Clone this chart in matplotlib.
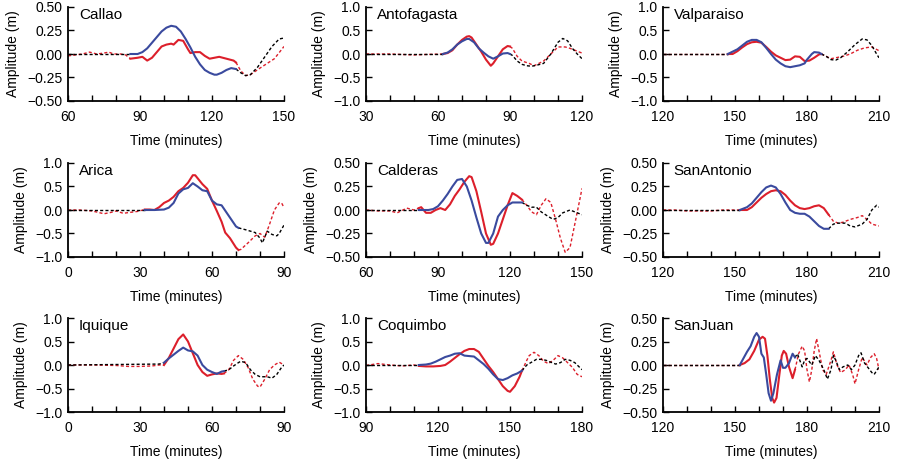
import numpy as np
import matplotlib
matplotlib.use("Agg")
import matplotlib.pyplot as plt
from matplotlib.ticker import FuncFormatter, MultipleLocator

plt.rcParams['font.family'] = ['Liberation Sans', 'DejaVu Sans']
plt.rcParams['font.size'] = 9

RED = '#dc1f2b'
BLUE = '#3a4a9e'

# ---- station data (time in minutes, amplitude in m) ----
callao_t_obs = [60, 63, 66, 69, 72, 75, 77, 79, 82, 84, 86, 89, 91, 93, 95, 97, 99, 101, 103, 104,
                106, 108, 110, 111, 113, 115, 117, 119, 121, 123, 126, 129, 130, 132, 134, 136,
                140, 143, 146, 150]
callao_obs = [-0.02, -0.01, 0.0, 0.02, 0.0, 0.01, 0.02, 0.0, 0.0, -0.01, -0.05, -0.04, -0.03, -0.07,
              -0.04, 0.02, 0.08, 0.10, 0.11, 0.10, 0.15, 0.14, 0.05, 0.01, 0.02, 0.02, -0.02, -0.05,
              -0.04, -0.03, -0.05, -0.07, -0.09, -0.18, -0.23, -0.22, -0.15, -0.10, -0.05, 0.08]
callao_t_syn = [60, 86, 89, 91, 93, 95, 97, 99, 101, 103, 105, 107, 109, 111, 113, 115, 117, 119,
                121, 122, 124, 126, 128, 130, 132, 134, 136, 139, 142, 145, 148, 150]
callao_syn = [0.0, 0.0, 0.0, 0.02, 0.06, 0.12, 0.18, 0.24, 0.28, 0.30, 0.29, 0.24, 0.16, 0.07, -0.03,
              -0.11, -0.17, -0.20, -0.22, -0.22, -0.20, -0.17, -0.15, -0.16, -0.20, -0.23, -0.22,
              -0.14, -0.03, 0.08, 0.16, 0.17]
callao_win = (86, 130)

antof_t_obs = [30, 40, 50, 55, 62, 64, 66, 68, 70, 72, 73, 74, 76, 78, 80, 82, 83, 85, 87, 89, 90,
               91, 93, 95, 98, 100, 102, 104, 107, 110, 113, 115, 117, 120]
antof_obs = [0.0, 0.0, -0.02, -0.01, 0.0, 0.02, 0.08, 0.2, 0.3, 0.37, 0.38, 0.35, 0.2, 0.05, -0.12,
             -0.25, -0.2, -0.05, 0.1, 0.17, 0.16, 0.12, -0.05, -0.15, -0.2, -0.25, -0.2, -0.15, 0.0,
             0.15, 0.15, 0.12, 0.08, 0.02]
antof_t_syn = [30, 62, 64, 66, 68, 70, 72, 73, 75, 77, 79, 81, 83, 85, 87, 89, 90, 91, 93, 95, 97,
               99, 101, 104, 107, 110, 112, 114, 116, 118, 120]
antof_syn = [0.0, 0.0, 0.03, 0.1, 0.2, 0.27, 0.32, 0.32, 0.25, 0.12, 0.03, -0.05, -0.1, -0.05, 0.01,
             0.02, 0.0, -0.03, -0.15, -0.22, -0.25, -0.26, -0.24, -0.2, 0.0, 0.25, 0.33, 0.28, 0.12,
             0.0, -0.1]
antof_win = (62, 90)

valpo_t_obs = [120, 147, 149, 151, 153, 155, 157, 159, 161, 163, 165, 167, 169, 171, 173, 175, 177,
               179, 181, 183, 185, 186, 188, 190, 192, 195, 198, 201, 204, 207, 210]
valpo_obs = [0.0, 0.0, 0.0, 0.06, 0.14, 0.21, 0.25, 0.26, 0.24, 0.15, 0.05, -0.03, -0.08, -0.13, -0.12,
             -0.05, -0.06, -0.15, -0.14, -0.08, -0.01, 0.0, -0.05, -0.1, -0.08, -0.05, 0.0, 0.08, 0.13,
             0.15, 0.07]
valpo_t_syn = [120, 147, 149, 151, 153, 155, 157, 159, 161, 163, 165, 167, 169, 171, 173, 175, 177,
               179, 180, 182, 183, 185, 186, 188, 190, 192, 194, 197, 200, 203, 205, 207, 209, 210]
valpo_syn = [0.0, 0.0, 0.05, 0.1, 0.18, 0.26, 0.3, 0.3, 0.25, 0.13, 0.0, -0.12, -0.2, -0.26, -0.28,
             -0.26, -0.24, -0.2, -0.12, 0.0, 0.04, 0.03, 0.0, -0.05, -0.12, -0.13, -0.08, 0.05, 0.2,
             0.32, 0.3, 0.18, 0.0, -0.08]
valpo_win = (147, 186)

arica_t_obs = [0, 5, 10, 15, 18, 20, 23, 26, 29, 32, 34, 36, 38, 40, 42, 44, 46, 48, 50, 52, 53, 56,
               58, 60, 62, 64, 65.5, 67.5, 70, 71, 72, 75, 78, 80, 82, 84, 86, 88, 89, 90]
arica_obs = [0.0, 0.0, -0.02, -0.08, -0.05, -0.02, -0.07, -0.05, -0.03, 0.01, 0.01, 0.0, 0.06, 0.15,
             0.2, 0.28, 0.4, 0.47, 0.58, 0.74, 0.74, 0.55, 0.45, 0.2, -0.02, -0.25, -0.48, -0.6, -0.8,
             -0.85, -0.84, -0.7, -0.55, -0.5, -0.58, -0.3, 0.0, 0.15, 0.15, 0.05]
arica_t_syn = [0, 32, 36, 40, 42, 44, 46, 48, 50, 52, 54, 56, 58, 60, 62, 64, 66, 68, 70, 71, 74, 76,
               78, 80, 81, 83, 85, 87, 88, 90]
arica_syn = [0.0, 0.0, 0.0, 0.01, 0.05, 0.15, 0.35, 0.44, 0.47, 0.57, 0.5, 0.42, 0.4, 0.2, 0.12, 0.1,
             -0.05, -0.2, -0.35, -0.38, -0.42, -0.45, -0.48, -0.6, -0.7, -0.45, -0.52, -0.55, -0.5,
             -0.32]
arica_win = (32, 71)

calde_t_obs = [60, 65, 70, 73, 77, 80, 82, 83, 85, 87, 89, 91, 93, 95, 97, 99, 101, 103, 104, 106,
               108, 110, 112, 113, 115, 117, 119, 121, 123, 125, 127, 129, 131, 133, 135, 137, 139,
               141, 143, 145, 147, 149, 150]
calde_obs = [0.0, -0.01, -0.01, -0.03, 0.02, 0.0, 0.02, 0.03, -0.03, -0.03, 0.0, 0.02, 0.0, 0.06, 0.15,
             0.22, 0.3, 0.36, 0.35, 0.2, -0.02, -0.25, -0.37, -0.36, -0.25, -0.1, 0.05, 0.18, 0.15,
             0.11, 0.05, -0.02, -0.05, 0.05, 0.12, 0.08, -0.1, -0.3, -0.45, -0.4, -0.15, 0.1, 0.23]
calde_t_syn = [60, 82, 86, 88, 90, 92, 94, 96, 98, 100, 102, 104, 106, 108, 110, 111, 113, 115, 117,
               119, 121, 123, 125, 127, 129, 131, 133, 136, 138, 140, 142, 145, 147, 150]
calde_syn = [0.0, 0.0, 0.0, 0.01, 0.04, 0.1, 0.17, 0.25, 0.32, 0.33, 0.25, 0.1, -0.08, -0.25, -0.35,
             -0.35, -0.25, -0.07, 0.0, 0.05, 0.08, 0.08, 0.08, 0.05, 0.03, 0.03, -0.02, -0.07, -0.1,
             -0.08, -0.03, 0.0, -0.02, -0.05]
calde_win = (82, 125)

santo_t_obs = [120, 125, 130, 135, 140, 145, 150, 152, 155, 157, 159, 161, 163, 165, 167, 169, 171,
               173, 175, 177, 179, 181, 183, 185, 187, 189, 191, 193, 195, 198, 201, 203, 205, 207, 210]
santo_obs = [0.0, 0.0, -0.01, -0.01, -0.01, 0.0, 0.0, 0.0, 0.0, 0.03, 0.08, 0.13, 0.17, 0.2, 0.21, 0.2,
             0.16, 0.1, 0.05, 0.02, 0.01, 0.02, 0.04, 0.05, 0.02, -0.05, -0.12, -0.14, -0.13, -0.1,
             -0.08, -0.06, -0.1, -0.15, -0.17]
santo_t_syn = [120, 152, 155, 157, 159, 161, 163, 165, 167, 169, 171, 173, 175, 177, 179, 181, 183,
               185, 187, 189, 191, 193, 196, 198, 200, 203, 205, 207, 209, 210]
santo_syn = [0.0, 0.0, 0.03, 0.07, 0.13, 0.19, 0.24, 0.26, 0.24, 0.17, 0.08, 0.0, -0.03, -0.04, -0.04,
             -0.07, -0.12, -0.17, -0.2, -0.2, -0.15, -0.14, -0.14, -0.17, -0.18, -0.15, -0.1, 0.0,
             0.05, 0.03]
santo_win = (152, 189)

iquiq_t_obs = [0, 10, 20, 25, 30, 35, 38, 40, 42, 44, 46, 48, 50, 52, 54, 56, 58, 60, 62, 64, 65, 67,
               69, 71, 73, 75, 77, 79, 80, 82, 84, 86, 88, 90]
iquiq_obs = [0.0, 0.0, -0.01, -0.03, -0.03, -0.02, 0.0, 0.0, 0.15, 0.35, 0.55, 0.65, 0.5, 0.25, 0.0,
             -0.15, -0.23, -0.2, -0.18, -0.19, -0.18, -0.1, 0.1, 0.2, 0.12, -0.05, -0.3, -0.45, -0.47,
             -0.3, -0.1, 0.0, 0.06, 0.0]
iquiq_t_syn = [0, 38, 40, 42, 44, 46, 48, 50, 52, 54, 56, 58, 60, 62, 64, 65, 67, 69, 71, 72, 74, 76,
               78, 80, 83, 85, 87, 89, 90]
iquiq_syn = [0.0, 0.02, 0.05, 0.14, 0.22, 0.3, 0.37, 0.31, 0.29, 0.2, 0.0, -0.1, -0.15, -0.19, -0.14,
             -0.13, -0.1, -0.02, 0.05, 0.08, 0.05, -0.1, -0.2, -0.25, -0.25, -0.28, -0.2, -0.05, 0.0]
iquiq_win = (40, 65)

coqui_t_obs = [90, 95, 100, 105, 110, 112, 115, 118, 121, 123, 125, 127, 129, 131, 133, 135, 137,
               139, 141, 143, 145, 147, 149, 150, 152, 154, 155, 157, 158, 160, 162, 164, 166, 168,
               170, 172, 174, 176, 178, 180]
coqui_obs = [-0.01, 0.03, 0.0, -0.02, 0.0, -0.02, -0.03, -0.03, -0.02, 0.0, 0.07, 0.15, 0.23, 0.3,
             0.34, 0.34, 0.28, 0.13, -0.02, -0.15, -0.3, -0.45, -0.55, -0.57, -0.45, -0.25, -0.12,
             0.1, 0.2, 0.27, 0.2, 0.08, 0.03, 0.1, 0.2, 0.15, 0.05, -0.05, -0.2, -0.25]
coqui_t_syn = [90, 112, 115, 117, 119, 121, 123, 125, 127, 129, 131, 133, 135, 137, 139, 141, 143,
               145, 147, 149, 151, 153, 155, 157, 159, 161, 163, 165, 167, 169, 171, 173, 175, 177, 180]
coqui_syn = [0.0, 0.0, 0.01, 0.03, 0.07, 0.12, 0.17, 0.2, 0.24, 0.25, 0.2, 0.19, 0.18, 0.1, 0.02,
             -0.08, -0.2, -0.3, -0.32, -0.28, -0.22, -0.18, -0.12, 0.0, 0.06, 0.12, 0.12, 0.1, 0.06,
             0.02, 0.05, 0.12, 0.1, 0.05, -0.1]
coqui_win = (112, 155)

sjuan_t_obs = [120, 150, 152, 154, 156, 158, 160, 161.5, 162.5, 163.5, 164.5, 165.5, 166.3, 167.3,
               168.5, 169.5, 170.3, 171.3, 172.5, 174, 175, 176.5, 178, 179, 180, 181, 182, 183, 184,
               185, 186.5, 188, 190, 191, 192.5, 194, 196, 197.5, 199, 200, 201.5, 203, 205, 206.5,
               208, 209, 210]
sjuan_obs = [0.0, 0.0, 0.0, 0.02, 0.06, 0.15, 0.27, 0.3, 0.28, 0.1, -0.15, -0.35, -0.4, -0.35, -0.1,
             0.1, 0.15, 0.12, -0.02, -0.14, -0.05, 0.12, 0.2, 0.15, -0.05, -0.18, -0.05, 0.15, 0.28,
             0.15, -0.05, -0.1, 0.05, 0.14, 0.0, -0.08, -0.05, 0.0, -0.1, -0.2, -0.05, 0.08, 0.0,
             0.08, 0.12, 0.07, -0.05]
sjuan_t_syn = [120, 152, 153.5, 155, 156.5, 158, 159, 160, 161, 162, 163, 164, 165, 166, 167.5, 169,
               170, 171, 172.5, 174, 175, 176, 177, 178, 179, 180, 182, 183.5, 185, 187, 188.5, 190,
               191, 192, 193.5, 195, 197, 198.5, 200, 201.5, 202.5, 204, 205.5, 207, 208, 210]
sjuan_syn = [0.0, 0.0, 0.07, 0.14, 0.2, 0.3, 0.34, 0.3, 0.12, 0.08, -0.1, -0.3, -0.38, -0.3, -0.1,
             0.05, -0.03, -0.03, 0.02, 0.12, 0.08, 0.12, 0.05, -0.02, 0.05, 0.07, 0.0, 0.1, 0.05,
             -0.05, -0.15, -0.05, 0.1, 0.05, -0.05, -0.02, 0.0, -0.05, 0.0, 0.1, 0.13, 0.02, -0.03,
             -0.08, -0.1, -0.02]
sjuan_win = (152, 175)

stations = [
    ("Callao", callao_t_obs, callao_obs, callao_t_syn, callao_syn, callao_win, (60, 150), 0.5),
    ("Antofagasta", antof_t_obs, antof_obs, antof_t_syn, antof_syn, antof_win, (30, 120), 1.0),
    ("Valparaiso", valpo_t_obs, valpo_obs, valpo_t_syn, valpo_syn, valpo_win, (120, 210), 1.0),
    ("Arica", arica_t_obs, arica_obs, arica_t_syn, arica_syn, arica_win, (0, 90), 1.0),
    ("Calderas", calde_t_obs, calde_obs, calde_t_syn, calde_syn, calde_win, (60, 150), 0.5),
    ("SanAntonio", santo_t_obs, santo_obs, santo_t_syn, santo_syn, santo_win, (120, 210), 0.5),
    ("Iquique", iquiq_t_obs, iquiq_obs, iquiq_t_syn, iquiq_syn, iquiq_win, (0, 90), 1.0),
    ("Coquimbo", coqui_t_obs, coqui_obs, coqui_t_syn, coqui_syn, coqui_win, (90, 180), 1.0),
    ("SanJuan", sjuan_t_obs, sjuan_obs, sjuan_t_syn, sjuan_syn, sjuan_win, (120, 210), 0.5),
]


def draw_trace(ax, t, a, win, solid_color, dash_color):
    t = np.asarray(t, dtype=float)
    a = np.asarray(a, dtype=float)
    before = t <= win[0]
    inside = (t >= win[0]) & (t <= win[1])
    after = t >= win[1]
    dash = dict(color=dash_color, lw=1.0, linestyle=(0, (2.2, 1.6)))
    ax.plot(t[before], a[before], **dash)
    ax.plot(t[after], a[after], **dash)
    ax.plot(t[inside], a[inside], color=solid_color, lw=1.5, solid_joinstyle='round')


def yfmt(lim):
    if lim < 1:
        return FuncFormatter(lambda v, p: ("%.2f" % v).replace("-", "\u2212"))
    return FuncFormatter(lambda v, p: ("%.1f" % v).replace("-", "\u2212"))


fig = plt.figure(figsize=(8.97, 4.61), dpi=100)
W, H = 897.0, 461.0
lefts = [68, 366, 663]
tops = [7, 163, 318]
aw, ah = 216, 94

for i, (name, to, ao, ts, as_, win, xlim, ylim) in enumerate(stations):
    r, c = divmod(i, 3)
    ax = fig.add_axes([lefts[c] / W, 1 - (tops[r] + ah) / H, aw / W, ah / H])
    draw_trace(ax, to, ao, win, RED, RED)
    draw_trace(ax, ts, as_, win, BLUE, 'black')
    ax.set_xlim(*xlim)
    ax.set_ylim(-ylim, ylim)
    ax.xaxis.set_major_locator(MultipleLocator(30))
    ax.xaxis.set_minor_locator(MultipleLocator(10))
    ax.yaxis.set_major_locator(MultipleLocator(ylim / 2))
    ax.yaxis.set_major_formatter(yfmt(ylim))
    for s in ('top', 'right'):
        ax.spines[s].set_visible(False)
    for s in ('left', 'bottom'):
        ax.spines[s].set_linewidth(1.3)
    ax.tick_params(which='both', direction='in', width=1.0, labelsize=10)
    ax.tick_params(which='major', length=4.5)
    ax.tick_params(which='minor', length=4.5)
    ax.tick_params(axis='x', pad=6.5)
    ax.tick_params(axis='y', pad=4)
    ax.set_xlabel("Time (minutes)", fontsize=10, labelpad=7)
    ax.set_ylabel("Amplitude (m)", fontsize=10, labelpad=5)
    ax.text(0.05, 0.91, name, transform=ax.transAxes, fontsize=11, va='center', ha='left')

fig.savefig("out.png", dpi=100)
